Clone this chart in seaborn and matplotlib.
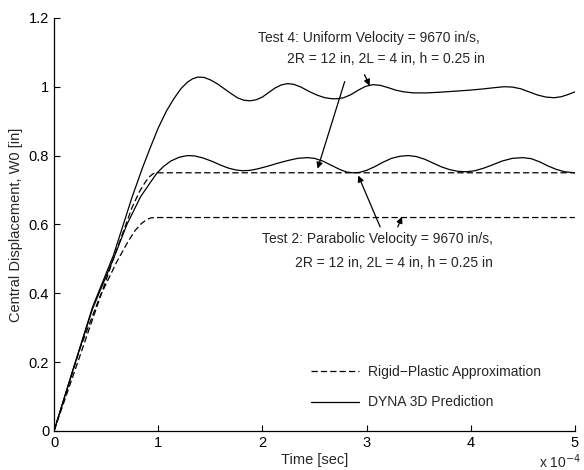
import matplotlib
matplotlib.use("Agg")
import matplotlib.pyplot as plt
import seaborn as sns

# time in units of 1e-4 s, displacement in inches
t_dyna_uniform = [0, 0.2, 0.37, 0.57, 0.75, 0.85, 0.92, 1.0, 1.08, 1.15, 1.22, 1.28, 1.33, 1.38,
                  1.44, 1.5, 1.57, 1.63, 1.7, 1.76, 1.82, 1.88, 1.94, 2.0, 2.06, 2.12, 2.18,
                  2.24, 2.3, 2.37, 2.45, 2.53, 2.6, 2.67, 2.72, 2.78, 2.85, 2.92, 2.99, 3.06,
                  3.13, 3.2, 3.28, 3.36, 3.45, 3.58, 3.7, 3.85, 3.99, 4.1, 4.22, 4.32, 4.4,
                  4.48, 4.56, 4.64, 4.72, 4.8, 4.87, 4.94, 5.0]
w_dyna_uniform = [0, 0.195, 0.36, 0.51, 0.68, 0.765, 0.82, 0.88, 0.93, 0.965, 0.995, 1.013,
                  1.023, 1.028, 1.027, 1.02, 1.008, 0.995, 0.98, 0.968, 0.961, 0.959, 0.962,
                  0.97, 0.983, 0.996, 1.005, 1.009, 1.007, 0.999, 0.986, 0.975, 0.968, 0.965,
                  0.965, 0.968, 0.977, 0.99, 1.001, 1.006, 1.004, 0.998, 0.99, 0.985, 0.982,
                  0.982, 0.984, 0.987, 0.99, 0.993, 0.997, 1.0, 0.999, 0.994, 0.985, 0.976,
                  0.97, 0.968, 0.971, 0.978, 0.985]

t_dyna_parabolic = [0, 0.2, 0.37, 0.57, 0.7, 0.83, 0.92, 0.99, 1.05, 1.12, 1.2, 1.28, 1.35,
                    1.43, 1.52, 1.6, 1.68, 1.75, 1.81, 1.88, 1.95, 2.05, 2.15, 2.25, 2.34,
                    2.43, 2.5, 2.58, 2.66, 2.74, 2.81, 2.87, 2.93, 3.0, 3.08, 3.16, 3.24, 3.32,
                    3.4, 3.48, 3.56, 3.64, 3.72, 3.8, 3.88, 3.96, 4.04, 4.12, 4.2, 4.3, 4.4,
                    4.5, 4.58, 4.66, 4.74, 4.82, 4.9, 5.0]
w_dyna_parabolic = [0, 0.195, 0.355, 0.5, 0.6, 0.68, 0.72, 0.75, 0.768, 0.784, 0.795, 0.80,
                    0.799, 0.793, 0.783, 0.772, 0.763, 0.758, 0.756, 0.757, 0.761, 0.769,
                    0.778, 0.786, 0.792, 0.794, 0.792, 0.784, 0.772, 0.76, 0.752, 0.75, 0.751,
                    0.757, 0.768, 0.781, 0.792, 0.798, 0.80, 0.797, 0.789, 0.778, 0.767,
                    0.759, 0.754, 0.753, 0.756, 0.763, 0.772, 0.784, 0.792, 0.794, 0.791,
                    0.782, 0.77, 0.76, 0.753, 0.75]

t_rp_uniform = [0, 0.57, 0.75, 0.82, 0.87, 0.91, 0.95, 0.99, 5.0]
w_rp_uniform = [0, 0.50, 0.65, 0.695, 0.72, 0.737, 0.747, 0.75, 0.75]

t_rp_parabolic = [0, 0.25, 0.44, 0.6, 0.71, 0.78, 0.84, 0.89, 0.93, 0.97, 5.0]
w_rp_parabolic = [0, 0.24, 0.39, 0.49, 0.55, 0.583, 0.603, 0.614, 0.619, 0.62, 0.62]

x_ticks = [0, 1, 2, 3, 4, 5]
y_ticks = [0, 0.2, 0.4, 0.6, 0.8, 1.0, 1.2]
y_ticklabels = ["0", "0.2", "0.4", "0.6", "0.8", "1", "1.2"]

sns.set_style("ticks")
plt.rcParams["font.family"] = ["Liberation Sans", "DejaVu Sans"]
plt.rcParams["xtick.direction"] = "in"
plt.rcParams["ytick.direction"] = "in"

fig = plt.figure(figsize=(5.84, 4.70), dpi=100)
ax = fig.add_axes([0.0925, 0.083, 0.892, 0.879])

dash = (5, 2.5)
sns.lineplot(x=t_rp_uniform, y=w_rp_uniform, color="k", lw=0.9, ax=ax, sort=False,
             estimator=None, label="Rigid\u2212Plastic Approximation")
ax.lines[-1].set_dashes(dash)
sns.lineplot(x=t_rp_parabolic, y=w_rp_parabolic, color="k", lw=0.9, ax=ax, sort=False,
             estimator=None, label="_nolegend_")
ax.lines[-1].set_dashes(dash)
sns.lineplot(x=t_dyna_uniform, y=w_dyna_uniform, color="k", lw=0.9, ax=ax, sort=False,
             estimator=None, label="DYNA 3D Prediction")
sns.lineplot(x=t_dyna_parabolic, y=w_dyna_parabolic, color="k", lw=0.9, ax=ax, sort=False,
             estimator=None, label="_nolegend_")

ax.set_xlim(0, 5)
ax.set_ylim(0, 1.2)
ax.set_xticks(x_ticks)
ax.set_xticklabels([str(v) for v in x_ticks])
ax.set_yticks(y_ticks)
ax.set_yticklabels(y_ticklabels)
ax.tick_params(labelsize=10.5, length=4, width=0.8, colors="k")
sns.despine(ax=ax)
for s in ["left", "bottom"]:
    ax.spines[s].set_linewidth(0.9)
    ax.spines[s].set_color("k")

ax.set_xlabel("Time [sec]", fontsize=10.5, labelpad=2)
ax.set_ylabel("Central Displacement, W0 [in]", fontsize=10.5, labelpad=4)
ax.text(1.012, -0.052, r"x 10$^{-4}$", transform=ax.transAxes, fontsize=10,
        va="top", ha="right")

fs = 10
ax.text(1.96, 1.13, "Test 4: Uniform Velocity = 9670 in/s,", fontsize=fs, va="baseline")
ax.text(2.24, 1.068, "2R = 12 in, 2L = 4 in, h = 0.25 in", fontsize=fs, va="baseline")
ax.text(2.0, 0.547, "Test 2: Parabolic Velocity = 9670 in/s,", fontsize=fs, va="baseline")
ax.text(2.31, 0.475, "2R = 12 in, 2L = 4 in, h = 0.25 in", fontsize=fs, va="baseline")

arrow = dict(arrowstyle="-|>", color="k", lw=0.9, mutation_scale=9, shrinkA=0, shrinkB=0)
ax.annotate("", xy=(2.53, 0.762), xytext=(2.79, 1.015), arrowprops=arrow)
ax.annotate("", xy=(3.03, 1.003), xytext=(2.98, 1.035), arrowprops=arrow)
ax.annotate("", xy=(2.92, 0.742), xytext=(3.13, 0.593), arrowprops=arrow)
ax.annotate("", xy=(3.34, 0.622), xytext=(3.30, 0.593), arrowprops=arrow)

ax.legend(loc="lower right", bbox_to_anchor=(0.958, 0.022), frameon=False, fontsize=fs,
          handlelength=3.5, labelspacing=1.2, handletextpad=0.6)

fig.savefig("out.png", dpi=100)
